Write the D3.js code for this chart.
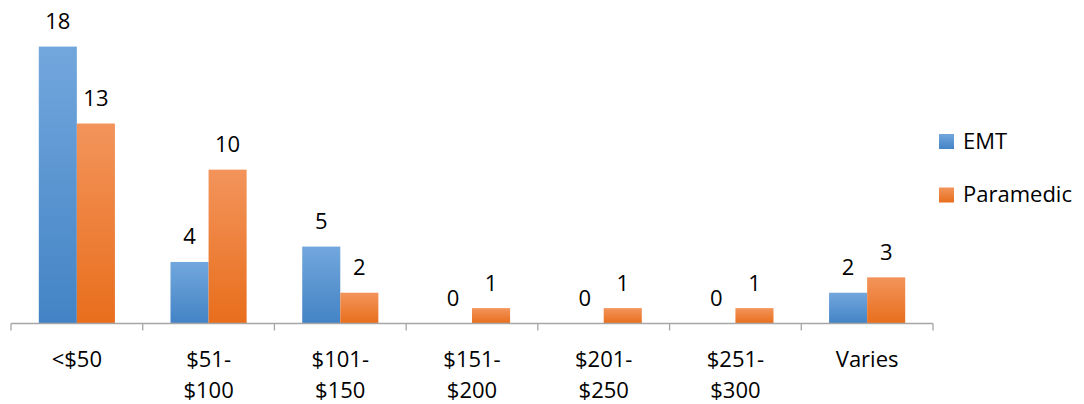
<!DOCTYPE html>
<html>
<head>
<meta charset="utf-8">
<script src="https://cdn.jsdelivr.net/npm/d3@7"></script>
<style>
  html, body { margin: 0; padding: 0; background: #fff; }
  svg { display: block; font-family: "Open Sans", "Liberation Sans", sans-serif; }
</style>
</head>
<body>
<svg id="chart" width="1084" height="404"></svg>
<script>
// Price ranges and counts per certification level
const categories = ["<$50", "$51-$100", "$101-$150", "$151-$200", "$201-$250", "$251-$300", "Varies"];
const emtValues = [18, 4, 5, 0, 0, 0, 2];
const paramedicValues = [13, 10, 2, 1, 1, 1, 3];
const seriesNames = ["EMT", "Paramedic"];
const yMax = 20;

const series = [
  { name: seriesNames[0], values: emtValues, grad: "gradBlue", top: "#72A7DD", bottom: "#4383C5" },
  { name: seriesNames[1], values: paramedicValues, grad: "gradOrange", top: "#F3945B", bottom: "#E86E1C" }
];

const svg = d3.select("#chart");
const plot = { left: 11, right: 933, top: 15.8, bottom: 323.5 };

const x = d3.scaleBand().domain(categories).range([plot.left, plot.right]).padding(0);
const y = d3.scaleLinear().domain([0, yMax]).range([plot.bottom, plot.top]);
const barW = x.bandwidth() * 0.289;

// Vertical gradients, lighter at the top of each bar
const defs = svg.append("defs");
series.forEach(s => {
  const g = defs.append("linearGradient").attr("id", s.grad)
    .attr("x1", 0).attr("y1", 0).attr("x2", 0).attr("y2", 1);
  g.append("stop").attr("offset", "0%").attr("stop-color", s.top);
  g.append("stop").attr("offset", "100%").attr("stop-color", s.bottom);
});

// Bars
series.forEach((s, si) => {
  const gx = c => x(c) + x.bandwidth() / 2 - barW + si * barW;
  svg.append("g").selectAll("rect")
    .data(categories.map((c, i) => ({ c, v: s.values[i] })))
    .join("rect")
    .attr("x", d => gx(d.c))
    .attr("y", d => y(d.v))
    .attr("width", barW)
    .attr("height", d => y(0) - y(d.v))
    .attr("fill", `url(#${s.grad})`);

  // Value labels above each bar
  svg.append("g").selectAll("text")
    .data(categories.map((c, i) => ({ c, v: s.values[i] })))
    .join("text")
    .attr("x", d => gx(d.c) + barW / 2)
    .attr("y", d => y(d.v) - 17.5)
    .attr("text-anchor", "middle")
    .attr("font-size", 22)
    .attr("fill", "#000")
    .text(d => d.v);
});

// Category axis with ticks between categories
const axis = svg.append("g").attr("transform", `translate(0,${plot.bottom})`);
axis.append("line")
  .attr("x1", plot.left).attr("x2", plot.right)
  .attr("y1", 0).attr("y2", 0)
  .attr("stroke", "#A6A6A6").attr("stroke-width", 1.3);
const boundaries = categories.map(c => x(c)).concat([plot.right]);
axis.selectAll("line.tick").data(boundaries).join("line")
  .attr("class", "tick")
  .attr("x1", d => d).attr("x2", d => d)
  .attr("y1", 0).attr("y2", 7)
  .attr("stroke", "#A6A6A6").attr("stroke-width", 1.3);

// Category labels, wrapped after the dash
const labels = svg.append("g");
categories.forEach(c => {
  const parts = c.includes("-") ? [c.slice(0, c.indexOf("-") + 1), c.slice(c.indexOf("-") + 1)] : [c];
  const t = labels.append("text")
    .attr("text-anchor", "middle")
    .attr("font-size", 22)
    .attr("fill", "#000");
  parts.forEach((p, i) => {
    t.append("tspan")
      .attr("x", x(c) + x.bandwidth() / 2)
      .attr("y", 367 + i * 31)
      .text(p);
  });
});

// Legend
const legend = svg.append("g");
series.forEach((s, i) => {
  const ly = 134 + i * 53.5;
  legend.append("rect")
    .attr("x", 939).attr("y", ly)
    .attr("width", 15).attr("height", 15)
    .attr("fill", `url(#${s.grad})`);
  legend.append("text")
    .attr("x", 963).attr("y", ly + 14.5)
    .attr("font-size", 22)
    .attr("fill", "#000")
    .text(s.name);
});
</script>
</body>
</html>
